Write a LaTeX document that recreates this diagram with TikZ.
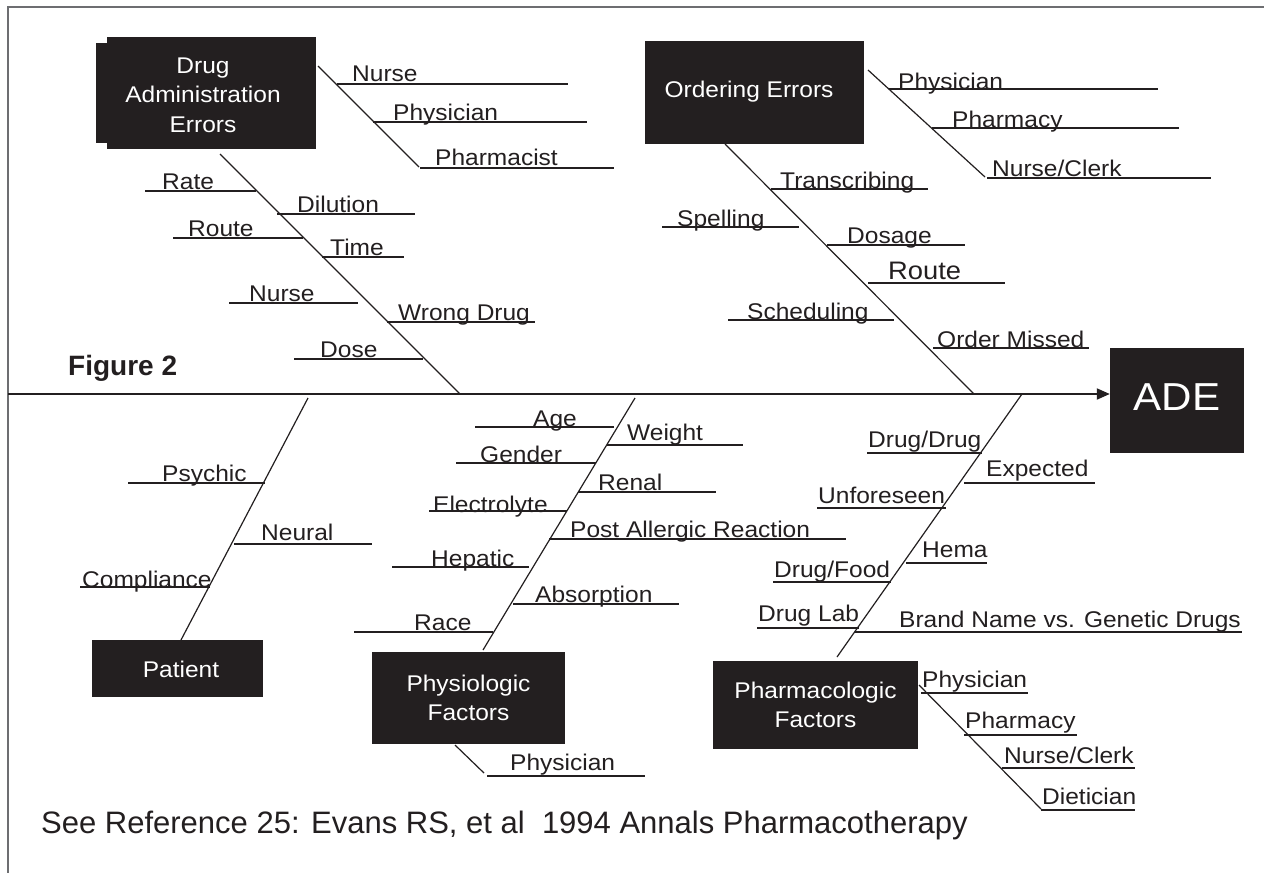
\documentclass[tikz,border=0pt]{standalone}
\usepackage{fontspec}
\setmainfont{Liberation Sans}
\newfontfamily\fbfont[FakeStretch=1.08]{Liberation Sans}
\usetikzlibrary{arrows.meta}
\definecolor{ink}{HTML}{231F20}
\definecolor{framec}{HTML}{6D6E71}
\newcommand{\fbLblFont}{\fontsize{22.7bp}{28bp}\fbfont}
\newcommand{\fbBoxFont}{\fontsize{22.7bp}{29.5bp}\fbfont}
% [gap], name, x1, x2, y, text-x, text
\newcommand{\fbl}[7][2]{%
  \coordinate (#2a) at (#3,#5);
  \coordinate (#2b) at (#4,#5);
  \draw[uline] (#2a) -- (#2b);
  \node[lbl] (#2) at (#6,#5-#1) {#7};
}
\begin{document}
\begin{tikzpicture}[x=1bp,y=-1bp,
  bone/.style={draw=ink, line width=1.2bp},
  uline/.style={draw=ink, line width=1.4bp},
  lbl/.style={anchor=base west, inner sep=0pt, text=ink, font=\fbLblFont},
  boxs/.style={fill=ink, draw=none, text=white, align=center, font=\fbBoxFont, inner sep=0pt},
  boxtxt/.style={text=white, align=center, font=\fbBoxFont, inner sep=0pt}
]
\useasboundingbox (0,0) rectangle (1264,873);
\fill[white] (0,0) rectangle (1264,873);
% frame
\coordinate (fbl) at (8,873);
\coordinate (ftl) at (8,7);
\coordinate (ftr) at (1264,7);
\draw[framec, line width=1.6bp] (fbl) -- (ftl) -- (ftr);

% ---------- boxes ----------
\node[boxs, minimum width=209bp, minimum height=112bp] (dae) at (211.5,93) {};
\fill[ink] (96,43) rectangle (108,143);
\node[boxtxt] (daet) at (203,95) {Drug\\Administration\\Errors};
\node[boxs, minimum width=219bp, minimum height=103bp] (oe) at (754.5,92.5) {};
\node[boxtxt] (oet) at (749,92) {Ordering Errors};
\node[boxs, minimum width=171bp, minimum height=57bp] (pat) at (177.5,668.5) {};
\node[boxtxt] (patt) at (181,669) {Patient};
\node[boxs, minimum width=193bp, minimum height=92bp] (phy) at (468.5,698) {Physiologic\\Factors};
\node[boxs, minimum width=205bp, minimum height=88bp] (pha) at (815.5,705) {Pharmacologic\\Factors};
\node[boxs, minimum width=134bp, minimum height=105bp] (ade) at (1177,400.5) {};
\node[boxtxt, font=\fontsize{39bp}{39bp}\fbfont] (adet) at (1177,397) {ADE};

% ---------- main axis ----------
\coordinate (ax0) at (8,394);
\coordinate (ax1) at (ax0 -| ade.west);
\draw[ink, line width=2bp, -{Triangle[length=13bp,width=11bp]}] (ax0) -- (ax1);

% ---------- bones ----------
\coordinate (daeA) at (318,66);  \coordinate (daeB) at (419,167);
\coordinate (daeC) at (220,154); \coordinate (daeD) at (460,394);
\coordinate (oeA) at (868,70);   \coordinate (oeB) at (985,177);
\coordinate (oeC) at (725,144);  \coordinate (oeD) at (974,394);
\coordinate (patA) at (308,398); \coordinate (patB) at (181,640);
\coordinate (phyA) at (635,398); \coordinate (phyB) at (483,650);
\coordinate (phyC) at (455,745); \coordinate (phyD) at (484,773);
\coordinate (phaA) at (1022,394); \coordinate (phaB) at (837,657);
\coordinate (phaC) at (919,685); \coordinate (phaD) at (1041,809);
\draw[bone] (daeA) -- (daeB);
\draw[bone] (daeC) -- (daeD);
\draw[bone] (oeA) -- (oeB);
\draw[bone] (oeC) -- (oeD);
\draw[bone] (patA) -- (patB);
\draw[bone] (phyA) -- (phyB);
\draw[bone] (phyC) -- (phyD);
\draw[bone] (phaA) -- (phaB);
\draw[bone] (phaC) -- (phaD);

% ---------- Drug administration errors ----------
\fbl[3]{da1}{337}{568}{84}{352}{Nurse}
\fbl{da2}{373}{587}{122}{393}{Physician}
\fbl[3]{da3}{420}{614}{168}{435}{Pharmacist}
\fbl{db1}{145}{256}{191}{162}{Rate}
\fbl{db2}{277}{415}{214}{297}{Dilution}
\fbl{db3}{173}{303}{238}{188}{Route}
\fbl{db4}{322}{404}{257}{330}{Time}
\fbl{db5}{229}{358}{303}{249}{Nurse}
\fbl{db6}{387}{535}{322}{398}{Wrong Drug}
\fbl{db7}{294}{423}{359}{320}{Dose}

% ---------- Ordering errors ----------
\fbl[0]{oa1}{889}{1158}{89}{898}{Physician}
\fbl[1]{oa2}{932}{1179}{128}{952}{Pharmacy}
\fbl{oa3}{987}{1211}{178}{992}{Nurse/Clerk}
\fbl[1]{ob1}{771}{928}{189}{780}{Transcribing}
\fbl[1]{ob2}{662}{799}{227}{677}{Spelling}
\fbl{ob3}{827}{965}{245}{847}{Dosage}
\fbl[4]{ob4}{868}{1005}{283}{888}{{\fontsize{25.3bp}{30bp}\fbfont Route}}
\fbl[1]{ob5}{728}{894}{320}{747}{Scheduling}
\fbl[1]{ob6}{933}{1089}{348}{937}{Order Missed}

% ---------- Patient ----------
\fbl[1.5]{pa1}{128}{265}{483}{162}{Psychic}
\fbl[4]{pa2}{234}{372}{544}{261}{Neural}
\fbl[0]{pa3}{80}{210}{587}{82}{Compliance}

% ---------- Physiologic ----------
\fbl[0.5]{py1}{475}{614}{427}{533}{Age}
\fbl[5]{py2}{607}{743}{445}{627}{Weight}
\fbl[1]{py3}{456}{596}{463}{480}{Gender}
\fbl{py4}{578}{716}{492}{598}{Renal}
\fbl[-1]{py5}{429}{567}{511}{433}{Electrolyte}
\fbl{py6}{549}{846}{539}{570}{Post Allergic Reaction}
\fbl[1]{py7}{392}{529}{567}{431}{Hepatic}
\fbl{py8}{513}{679}{604}{535}{Absorption}
\fbl{py9}{354}{493}{632}{414}{Race}
\fbl[6]{py10}{487}{645}{776}{510}{Physician}

% ---------- Pharmacologic ----------
\fbl[6]{ph1}{867}{982}{453}{868}{Drug/Drug}
\fbl[7]{ph2}{964}{1095}{483}{986}{Expected}
\fbl[5]{ph3}{817}{946}{508}{818}{Unforeseen}
\fbl[6]{ph4}{906}{987}{563}{922}{Hema}
\fbl[5]{ph5}{773}{891}{582}{774}{Drug/Food}
\fbl[7]{ph6}{757}{859}{628}{758}{Drug Lab}
\fbl[5]{ph7}{855}{1242}{632}{899}{Brand Name vs. Genetic Drugs}
\fbl[6]{pr1}{921}{1028}{693}{922}{Physician}
\fbl[7]{pr2}{964}{1077}{735}{965}{Pharmacy}
\fbl[5]{pr3}{1002}{1135}{768}{1004}{Nurse/Clerk}
\fbl[6]{pr4}{1041}{1135}{810}{1042}{Dietician}

% ---------- titles ----------
\node[anchor=base west, inner sep=0pt, text=ink, font=\fontsize{28bp}{30bp}\selectfont\bfseries] (fig) at (68,375) {Figure 2};
\node[anchor=base west, inner sep=0pt, text=ink, font=\fontsize{31bp}{34bp}\selectfont] (cap) at (41,833) {See Reference 25: Evans RS, et al\ \ 1994 Annals Pharmacotherapy};
\end{tikzpicture}
\end{document}
